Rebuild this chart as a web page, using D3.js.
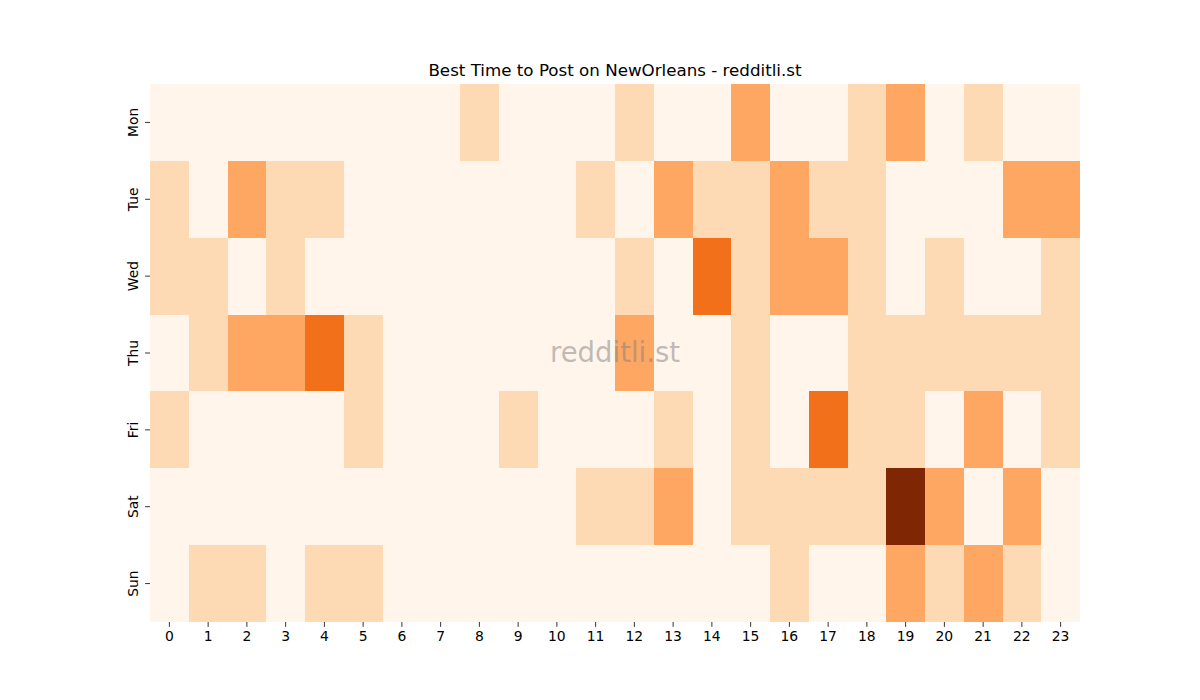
<!DOCTYPE html>
<html><head><meta charset="utf-8">
<script src="https://cdn.jsdelivr.net/npm/d3@7"></script>
<style>body{margin:0;background:#fff}svg text{font-family:"DejaVu Sans",sans-serif}</style>
</head><body>
<svg id="c" width="1200" height="700"></svg>
<script>
const days = ["Mon","Tue","Wed","Thu","Fri","Sat","Sun"];
const hours = d3.range(24).map(String);
const mon = [0,0,0,0,0,0,0,0,1,0,0,0,1,0,0,2,0,0,1,2,0,1,0,0];
const tue = [1,0,2,1,1,0,0,0,0,0,0,1,0,2,1,1,2,1,1,0,0,0,2,2];
const wed = [1,1,0,1,0,0,0,0,0,0,0,0,1,0,3,1,2,2,1,0,1,0,0,1];
const thu = [0,1,2,2,3,1,0,0,0,0,0,0,2,0,0,1,0,0,1,1,1,1,1,1];
const fri = [1,0,0,0,0,1,0,0,0,1,0,0,0,1,0,1,0,3,1,1,0,2,0,1];
const sat = [0,0,0,0,0,0,0,0,0,0,0,1,1,2,0,1,1,1,1,5,2,0,2,0];
const sun = [0,1,1,0,1,1,0,0,0,0,0,0,0,0,0,0,1,0,0,2,1,2,1,0];
const rows = [mon,tue,wed,thu,fri,sat,sun];
const orangesStops = ["#fff5eb","#fee6ce","#fdd0a2","#fdae6b","#fd8d3c","#f16913","#d94801","#a63603","#7f2704"];

const svg = d3.select("#c");
const L=150,R=1080,T=84,B=622;
const x = d3.scaleBand().domain(hours).range([L,R]);
const y = d3.scaleBand().domain(days).range([T,B]);
const vmax = d3.max(rows.flat());
const color = d3.scaleLinear()
  .domain(orangesStops.map((c,i)=>i/(orangesStops.length-1)*vmax))
  .range(orangesStops).interpolate(d3.interpolateRgb);

const cells = [];
rows.forEach((r,i)=>r.forEach((v,j)=>cells.push({d:days[i],h:hours[j],v})));
svg.append("g").attr("shape-rendering","crispEdges").selectAll("rect").data(cells).join("rect")
  .attr("x",d=>x(d.h)).attr("y",d=>y(d.d))
  .attr("width",x.bandwidth()).attr("height",y.bandwidth())
  .attr("fill",d=>color(d.v));

const xa = svg.append("g").attr("transform",`translate(0,${B})`)
  .call(d3.axisBottom(x).tickSize(4.9).tickPadding(4));
xa.select(".domain").remove();
xa.selectAll("text").attr("font-size",13.9).attr("fill","#000").style("font-family","DejaVu Sans");
xa.selectAll("line").attr("stroke","#000").attr("stroke-width",0.8);

const ya = svg.append("g").attr("transform",`translate(${L},0)`)
  .call(d3.axisLeft(y).tickSize(4.9).tickPadding(4));
ya.select(".domain").remove();
ya.selectAll("line").attr("stroke","#000").attr("stroke-width",0.8);
ya.selectAll("text").attr("font-size",13.9).attr("fill","#000").style("font-family","DejaVu Sans")
  .attr("text-anchor","middle").attr("dy",null).attr("x",null)
  .attr("transform","translate(-17,0) rotate(-90)").attr("dy","0.35em");

svg.append("text").attr("x",(L+R)/2).attr("y",76).attr("text-anchor","middle")
  .attr("font-size",16.7).text("Best Time to Post on NewOrleans - redditli.st");

svg.append("text").attr("x",(L+R)/2).attr("y",362).attr("text-anchor","middle")
  .attr("font-size",27.5).attr("fill","#808080").attr("fill-opacity",0.5).text("redditli.st");
</script>
</body></html>
